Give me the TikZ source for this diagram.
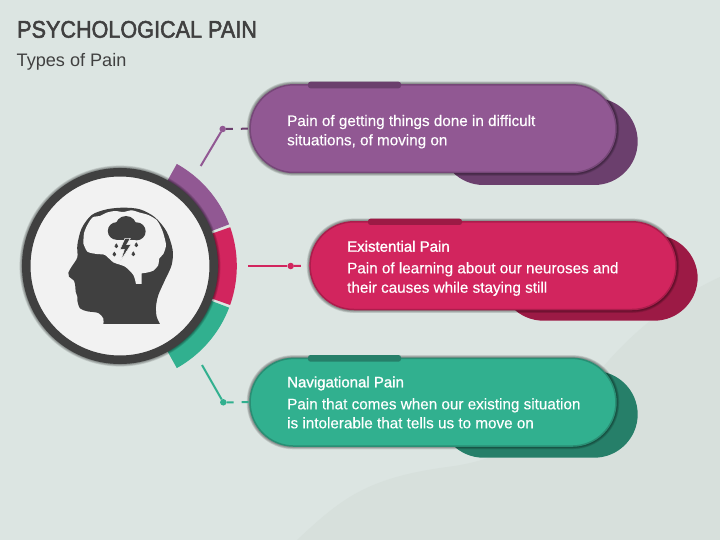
\documentclass[tikz,border=0pt]{standalone}
\usepackage{fontspec}
\setmainfont{Liberation Sans}
\newfontfamily\ttlfont[FakeBold=2.2,FakeStretch=0.9]{Liberation Sans}
\newfontfamily\headfont[FakeBold=1.3]{Liberation Sans}
\newfontfamily\bodyfont[FakeBold=0.35]{Liberation Sans}
\usetikzlibrary{shapes.misc}
\definecolor{bgA}{HTML}{DCE5E2}
\definecolor{bgB}{HTML}{D7E0DC}
\definecolor{ink}{HTML}{404040}
\definecolor{paper}{HTML}{F2F2F2}
\definecolor{purp}{HTML}{915893}
\definecolor{purpD}{HTML}{6B3F6D}
\definecolor{crim}{HTML}{D2255E}
\definecolor{crimD}{HTML}{9C1A45}
\definecolor{gree}{HTML}{31B08F}
\definecolor{greeD}{HTML}{267F69}
\tikzset{
  pill/.style={rounded rectangle,inner sep=0pt,outer sep=0pt,line width=1.5pt,minimum width=365.9pt,minimum height=87.7pt},
  tabbar/.style={rounded corners=2.5pt,line width=0pt},
  bodytext/.style={anchor=base west,inner sep=0pt,text=white,font=\fontsize{15.25}{18}\selectfont\bodyfont},
  headtext/.style={anchor=base west,inner sep=0pt,text=white,font=\fontsize{15}{18}\selectfont\headfont},
  knot/.style={circle,inner sep=0pt,outer sep=0pt,minimum size=6.5pt},
  lead/.style={line width=2pt},
  dashlead/.style={line width=2pt,dash pattern=on 7pt off 8pt}
}
\newcommand{\softpill}[4]{%
  \foreach \k in {1,...,4}{\draw[black,opacity=.11,line width=\k*1.3pt] (#1,#2) [rounded corners=44pt] rectangle (#3,#4);}}
\newcommand{\backpill}[5]{\fill[#5,rounded corners=43.5pt] (#1,#2) rectangle (#3,#4);}
\newcommand{\sector}[3]{\fill[#3] plot[domain=#1:#2,samples=40] ({120+116.8*cos(\x)},{266-116.8*sin(\x)}) -- plot[domain=#2:#1,samples=40] ({120+85*cos(\x)},{266-85*sin(\x)}) -- cycle;}
\newcommand{\drop}[2]{\fill[ink] (#1,#2+1) circle[radius=5.6]; \fill[ink] (#1-5,#2-1) -- (#1,#2-8) -- (#1+5,#2-1) -- cycle;}
\begin{document}
\begin{tikzpicture}[x=1pt,y=-1pt]
\useasboundingbox (0,0) rectangle (720,540);
% background
\fill[bgA] (0,0) rectangle (720,540);
\fill[bgB] (297,540) .. controls (340,500) and (365,478) .. (447,467) .. controls (520,458) and (560,420) .. (603,367) .. controls (630,335) and (670,300) .. (720,277) -- (720,540) -- cycle;
% title
\node[anchor=base west,inner sep=0pt,text=ink,font=\fontsize{24}{28}\selectfont\ttlfont] (title) at (17,37.7) {PSYCHOLOGICAL PAIN};
\node[anchor=base west,inner sep=0pt,text=ink,font=\fontsize{18.1}{20}\selectfont] (subtitle) at (16.5,66.5) {Types of Pain};
% ring sectors
\sector{60.9}{20.9}{purp}
\sector{19.4}{-19.5}{crim}
\sector{-20.9}{-60.9}{gree}
% hub
\foreach \k in {1,...,5}{\fill[black,opacity=.1] (120,266) circle[radius=97.6+\k*.6];}
\node[circle,draw=ink,fill=paper,line width=8.5pt,minimum size=187.5pt,inner sep=0pt,outer sep=0pt] (hub) at (120,266) {};
% head icon
\begin{scope}[xshift=0pt,yshift=-130pt,x=.33333pt,y=-.33333pt]
\fill[ink] plot[smooth,tension=.5] coordinates {(310,582) (310,565) (295,549) (262,544) (240,535) (232,512) (232,500) (227,485) (226,470) (222,452) (207,440) (205,428) (215,410) (232,382) (232,345) (245,295) (275,255) (320,238) (370,233) (420,238) (465,262) (500,305) (518,360) (515,405) (495,450) (475,495) (468,530) (470,560) (480,582)} -- cycle;
\fill[paper] plot[smooth,tension=.45] coordinates {(250,340) (252,310) (262,285) (278,262) (300,258) (320,248) (345,243) (370,246) (395,241) (420,248) (445,255) (470,270) (482,290) (490,310) (498,345) (490,372) (478,385) (475,405) (460,422) (440,428) (425,430)} -- (425,462) -- (408,462) -- plot[smooth,tension=.45] coordinates {(408,462) (400,435) (375,410) (340,397) (315,375) (290,372) (262,365) (250,340)} -- cycle;
\fill[ink] (378,290) circle[radius=32];
\fill[ink] (350,303) circle[radius=26.5];
\fill[ink] (410,304) circle[radius=27];
\fill[ink] (350,300) rectangle (410,331);
\filldraw[ink,draw=paper,line width=.6pt,line join=miter] (375,325) -- (360,358) -- (373,358) -- (362,392) -- (393,344) -- (380,344) -- (391,325) -- cycle;
\drop{349}{348}
\drop{409}{345}
\drop{343}{373}
\drop{400}{372}
\end{scope}
% back pills
\backpill{440}{98}{637.7}{185}{purpD}
\backpill{500}{235}{697.7}{320.7}{crimD}
\backpill{440}{371}{637.7}{457.7}{greeD}
% shadows
\softpill{249.3}{84}{616.7}{173.3}
\softpill{309.3}{221}{676.7}{310.3}
\softpill{249.3}{357.7}{616.7}{446.7}
% pills
\node[pill,draw=purpD!70!purp,fill=purp] (pillA) at (433,128.65) {};
\node[pill,draw=crimD!70!crim,fill=crim] (pillB) at (493,265.65) {};
\node[pill,draw=greeD!70!gree,fill=gree] (pillC) at (433,402.2) {};
% tabs
\fill[purpD,tabbar] (308,81.7) rectangle (401,88.3);
\fill[crimD,tabbar] (368,218.7) rectangle (462,225);
\fill[greeD,tabbar] (308,355) rectangle (401,361.7);
% texts
\node[bodytext] (a1) at (287,126) {Pain of getting things done in difficult};
\node[bodytext] (a2) at (287,145.3) {situations, of moving on};
\node[headtext] (bh) at (347,251.7) {Existential Pain};
\node[bodytext] (b1) at (347,273.3) {Pain of learning about our neuroses and};
\node[bodytext] (b2) at (347,292.7) {their causes while staying still};
\node[headtext] (ch) at (287,387.3) {Navigational Pain};
\node[bodytext] (c1) at (287,409.3) {Pain that comes when our existing situation};
\node[bodytext] (c2) at (287,428.3) {is intolerable that tells us to move on};
% connectors
\coordinate (sa) at (200.7,166);
\coordinate (sb) at (248,266);
\coordinate (sc) at (202,365);
\node[knot,fill=purp] (ka) at (222.7,129) {};
\node[knot,fill=crim] (kb) at (290.7,266) {};
\node[knot,fill=gree] (kc) at (223.3,402.3) {};
\draw[lead,purp] (sa) -- (ka);
\draw[lead,crim] (sb) -- (kb);
\draw[lead,gree] (sc) -- (kc);
\draw[dashlead,purpD] (ka) -- (pillA.west);
\draw[dashlead,crim] (kb) -- (pillB.west);
\draw[dashlead,gree] (kc) -- (pillC.west);
\end{tikzpicture}
\end{document}
